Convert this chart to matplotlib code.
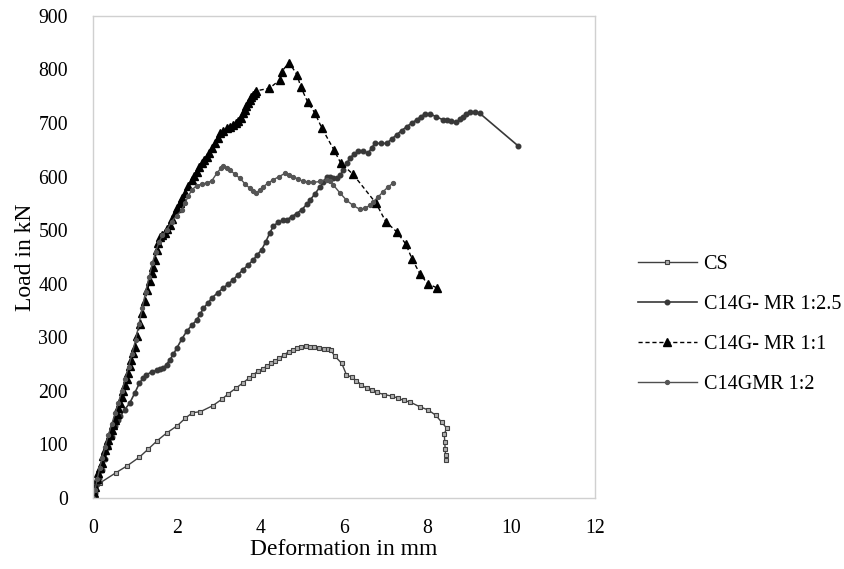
import matplotlib
matplotlib.use("Agg")
from matplotlib import pyplot as plt

# CS
cs_x = [0, 0.05, 0.17, 0.55, 0.82, 1.11, 1.32, 1.54, 1.76, 2.02, 2.21, 2.38, 2.57, 2.86, 3.08,
        3.23, 3.42, 3.59, 3.72, 3.83, 3.94, 4.06, 4.15, 4.26, 4.36, 4.45, 4.57, 4.68, 4.79, 4.88,
        4.98, 5.09, 5.19, 5.28, 5.40, 5.52, 5.63, 5.68, 5.78, 5.95, 6.06, 6.19, 6.30, 6.42, 6.54,
        6.66, 6.78, 6.96, 7.15, 7.30, 7.43, 7.58, 7.82, 8.02, 8.20, 8.34, 8.46, 8.40, 8.41, 8.42,
        8.43, 8.43]
cs_y = [0, 8, 28, 47, 60, 76, 91, 107, 121, 135, 149, 159, 161, 172, 184,
        194, 205, 215, 223, 230, 236, 241, 246, 251, 256, 261, 267, 273, 276, 280,
        282, 284, 281, 281, 279, 278, 278, 276, 265, 251, 230, 225, 219, 211, 205,
        202, 197, 193, 190, 186, 182, 179, 170, 164, 154, 141, 130, 120, 105, 92,
        80, 70]

# C14G- MR 1:2.5
a_x = [0, 0.05, 0.10, 0.15, 0.21, 0.29, 0.37, 0.45, 0.53, 0.59, 0.65, 0.76, 0.88, 1.00, 1.11,
       1.20, 1.28, 1.40, 1.52, 1.60, 1.68, 1.76, 1.84, 1.92, 2.00, 2.12, 2.24, 2.36, 2.48, 2.56,
       2.64, 2.74, 2.84, 2.98, 3.12, 3.24, 3.35, 3.47, 3.59, 3.71, 3.83, 3.93, 4.03, 4.13, 4.23,
       4.31, 4.43, 4.55, 4.63, 4.75, 4.87, 4.99, 5.11, 5.19, 5.31, 5.43, 5.51, 5.59, 5.67, 5.75,
       5.83, 5.91, 5.99, 6.07, 6.14, 6.24, 6.34, 6.46, 6.58, 6.66, 6.74, 6.88, 7.02, 7.14, 7.26,
       7.38, 7.50, 7.62, 7.74, 7.84, 7.94, 8.06, 8.20, 8.37, 8.47, 8.57, 8.69, 8.77, 8.85, 8.93,
       9.01, 9.13, 9.25, 10.17]
a_y = [0, 10, 25, 38, 52, 72, 95, 114, 134, 145, 152, 165, 177, 196, 214,
       224, 230, 235, 238, 240, 242, 249, 258, 268, 279, 296, 311, 322, 332, 343,
       354, 363, 373, 383, 392, 400, 407, 417, 426, 435, 444, 454, 463, 478, 495,
       507, 515, 518, 519, 525, 531, 538, 548, 556, 568, 581, 590, 600, 600, 597,
       597, 603, 612, 625, 634, 642, 647, 647, 644, 653, 662, 662, 662, 670, 678,
       686, 693, 700, 706, 712, 717, 717, 712, 706, 705, 703, 701, 707, 712, 717,
       720, 720, 718, 657]

# C14G- MR 1:1
c_x = [0, 0.02, 0.05, 0.09, 0.13, 0.17, 0.21, 0.25, 0.29, 0.33, 0.37, 0.41, 0.45, 0.49, 0.53,
       0.57, 0.61, 0.65, 0.69, 0.73, 0.77, 0.81, 0.84, 0.88, 0.92, 0.96, 1.00, 1.06, 1.12, 1.18,
       1.24, 1.30, 1.36, 1.40, 1.44, 1.48, 1.52, 1.56, 1.60, 1.66, 1.72, 1.78, 1.84, 1.90, 1.96,
       2.02, 2.08, 2.14, 2.20, 2.28, 2.36, 2.42, 2.48, 2.54, 2.60, 2.66, 2.72, 2.78, 2.84, 2.92,
       2.98, 3.04, 3.12, 3.20, 3.28, 3.35, 3.41, 3.47, 3.53, 3.59, 3.63, 3.67, 3.71, 3.75, 3.79,
       3.83, 3.87, 3.90, 4.22, 4.46, 4.51, 4.69, 4.88, 4.97, 5.13, 5.31, 5.47, 5.76, 5.92, 6.22,
       6.77, 7.00, 7.26, 7.48, 7.63, 7.82, 8.00, 8.23]
c_y = [0, 10, 21, 35, 46, 56, 65, 78, 90, 99, 108, 118, 127, 137, 146,
       157, 167, 178, 189, 200, 211, 222, 233, 246, 258, 270, 282, 302, 325, 345,
       368, 388, 405, 420, 432, 444, 463, 476, 488, 491, 494, 502, 510, 521, 532,
       541, 550, 560, 569, 582, 594, 602, 609, 617, 625, 631, 637, 644, 654, 662,
       672, 681, 686, 690, 693, 696, 700, 703, 710, 718, 724, 731, 737, 743, 748,
       752, 757, 760, 765, 780, 796, 813, 790, 767, 740, 718, 691, 650, 626, 604,
       550, 516, 497, 474, 446, 418, 400, 392]

# C14GMR 1:2
b_x = [0, 0.05, 0.10, 0.16, 0.22, 0.29, 0.37, 0.45, 0.53, 0.61, 0.69, 0.77, 0.85, 0.93, 1.02,
       1.10, 1.18, 1.26, 1.34, 1.42, 1.50, 1.58, 1.66, 1.76, 1.88, 2.00, 2.12, 2.20, 2.28, 2.36,
       2.48, 2.60, 2.72, 2.84, 2.96, 3.06, 3.12, 3.20, 3.28, 3.40, 3.51, 3.63, 3.75, 3.83, 3.91,
       3.99, 4.07, 4.19, 4.31, 4.45, 4.59, 4.69, 4.79, 4.91, 5.03, 5.15, 5.27, 5.43, 5.59, 5.67,
       5.75, 5.90, 6.06, 6.22, 6.38, 6.50, 6.62, 6.70, 6.82, 6.94, 7.06, 7.18]
b_y = [0, 15, 35, 55, 75, 95, 118, 138, 158, 178, 200, 222, 245, 268, 295,
       325, 355, 385, 412, 438, 460, 478, 490, 500, 516, 527, 537, 551, 563, 575,
       583, 586, 588, 592, 606, 616, 619, 616, 612, 604, 597, 587, 578, 573, 570,
       575, 581, 588, 594, 600, 606, 603, 600, 595, 591, 590, 589, 591, 594, 592,
       584, 570, 556, 546, 539, 541, 546, 553, 562, 572, 581, 588]

plt.rcParams['font.family'] = ['Liberation Serif', 'DejaVu Serif']

fig = plt.figure(figsize=(8.45, 5.69), dpi=100)
ax = fig.add_axes([0.110, 0.125, 0.594, 0.847])

ax.plot(cs_x, cs_y, color='#404040', lw=1, marker='s', ms=3.5,
        mfc='#b0b0b0', mec='#404040', mew=0.8, label='CS')
ax.plot(a_x, a_y, color='#383838', lw=1.2, marker='o', ms=3.3,
        mfc='#383838', mec='#383838', label='C14G- MR 1:2.5')
ax.plot(c_x, c_y, color='black', lw=1, ls=(0, (3, 2)), marker='^', ms=5.8,
        mfc='black', mec='black', label='C14G- MR 1:1')
ax.plot(b_x, b_y, color='#505050', lw=1, marker='o', ms=2.8,
        mfc='#555555', mec='#555555', label='C14GMR 1:2')

ax.set_xlim(0, 12)
ax.set_ylim(0, 900)
ax.set_xticks(range(0, 13, 2))
ax.set_yticks(range(0, 901, 100))
ax.tick_params(length=0, labelsize=14.2)
ax.tick_params(axis='x', pad=15)
ax.tick_params(axis='y', pad=18)
for s in ax.spines.values():
    s.set_color('#d0d0d0')
    s.set_linewidth(1)

ax.set_xlabel('Deformation in mm', fontsize=17, labelpad=1)
ax.set_ylabel('Load in kN', fontsize=17, labelpad=2)

ax.legend(loc='center left', bbox_to_anchor=(1.05, 0.36), frameon=False,
          fontsize=14.5, handlelength=2.9, handletextpad=0.35, labelspacing=1.05)

fig.savefig('out.png', dpi=100)
